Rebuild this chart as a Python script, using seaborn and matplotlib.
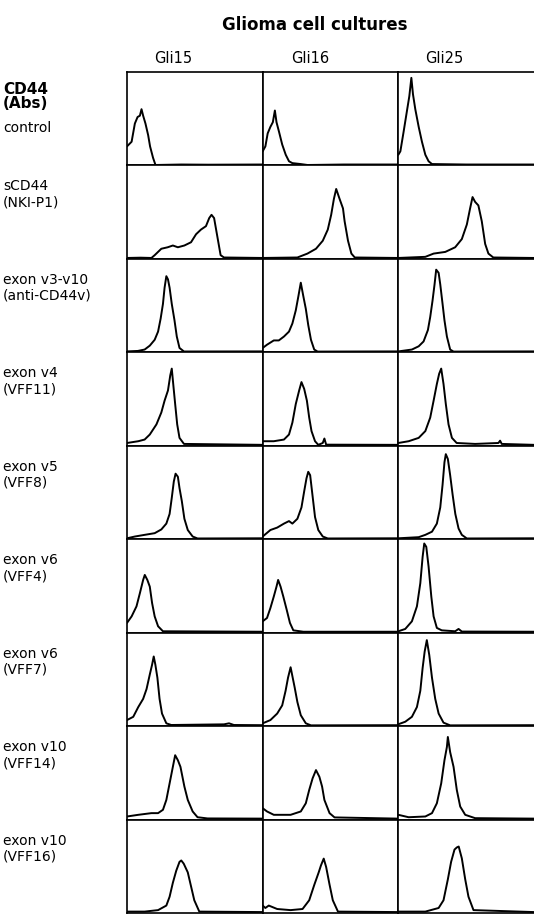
import matplotlib
matplotlib.use("Agg")
import matplotlib.pyplot as plt
import seaborn as sns
import pandas as pd

# ---------------- data (panel-relative: x = fluorescence channel %, y = cell count %) ----------------
cell_lines = ["Gli15", "Gli16", "Gli25"]
row_labels = [
    ["CD44", "(Abs)", "control"],
    ["sCD44", "(NKI-P1)"],
    ["exon v3-v10", "(anti-CD44v)"],
    ["exon v4", "(VFF11)"],
    ["exon v5", "(VFF8)"],
    ["exon v6", "(VFF4)"],
    ["exon v6", "(VFF7)"],
    ["exon v10", "(VFF14)"],
    ["exon v10", "(VFF16)"],
]
title = "Glioma cell cultures"

ctrl_gli15 = [(0,20),(3.4,25),(5.8,44.6),(7.8,51.6),(9.5,53),(10.7,60),(11.9,53),(13.6,44.6),(15.6,32),(17,20),(19.2,7.7),(21,0),(40,0.5),(60,0.3),(100,0.5)]
ctrl_gli16 = [(0,14.7),(2,20),(3.7,34),(5.7,41),(7.5,46),(9,58.6),(10.2,46),(12,36),(14.4,22),(17,11),(19.4,4),(21.9,2),(28,1),(33,0),(60,0.5),(100,0.5)]
ctrl_gli25 = [(0,11),(1.5,14.7),(3.9,35.8),(6.4,58.6),(8.1,74),(9.6,93.7),(10.8,76),(12.5,60),(15,41),(17.4,25),(19.9,11),(22.3,4),(24.8,1),(50,0.5),(100,0.5)]

nki_gli15 = [(0,0.5),(10,0.8),(18,0.5),(20.4,3.5),(25.3,10.4),(30,12),(33.8,13.9),(37.5,12),(42.3,13.9),(47.2,17.4),(50.9,26),(54.5,31),(58.2,34.7),(60.6,43.4),(62.3,46.9),(64.2,43.4),(66.7,22.6),(69,3.5),(71.5,1),(100,0.5)]
nki_gli16 = [(0,0.5),(25.6,1),(33,5.2),(39.3,10.4),(44.3,19),(48,31),(50.5,46.9),(52.5,64),(54.2,74.7),(56.7,64),(59.2,53.8),(60.4,40),(62.9,19),(65.4,5.2),(67.9,1),(100,0.5)]
nki_gli25 = [(0,0.5),(19.9,1.7),(26,5.2),(34.6,7),(41.9,12),(46.8,20.8),(50.5,36.5),(52.9,53.8),(54.7,66),(56.6,60.8),(59,57),(61.5,40),(64,15.6),(66.4,5.2),(70,1),(100,0.5)]

v3_gli15 = [(0,0.5),(8,1),(13,2.5),(16.8,6.7),(20.4,13),(22.9,21.8),(24.8,35.8),(26.5,51.6),(27.7,69),(29,81.4),(30.2,78),(31.4,69),(33,51.6),(35,34),(36.7,16.5),(38.7,4.2),(42,0.4),(100,0.5)]
v3_gli16 = [(0,4.2),(3.2,7.7),(8.2,12.3),(11.9,12.3),(15.7,16.5),(19.4,21.8),(21.9,30.5),(24.4,44.6),(26.4,60.4),(28.1,74.4),(29.9,60.4),(31.8,46.3),(33.6,28.8),(35.6,13),(38,2.5),(40.5,0.3),(100,0.5)]
v3_gli25 = [(0,0.5),(10,2.5),(15,6),(18.6,11.2),(21.8,23.5),(23.5,37.5),(25.2,55),(26.7,72.6),(27.9,88.4),(29.7,85),(30.9,72.6),(32.6,51.6),(34,34),(35.8,16.5),(38.2,2.5),(40.7,0.3),(100,0.5)]

v4_gli15 = [(0,2.5),(8.3,4.4),(13,6.2),(16.8,11.6),(21.7,22.5),(25.3,35.3),(27.7,48),(30.2,59),(31.9,75.3),(33,82.5),(34.3,62.5),(35.5,44.4),(37,22.5),(38.7,8),(42,1.5),(100,0.5)]
v4_gli16 = [(0,4.4),(8.2,4.4),(15.7,6.2),(19.4,11.6),(21.9,24.4),(24.4,44.4),(26.9,59),(28.6,68),(30.6,60.7),(32.6,48),(34.3,29.8),(36,15.3),(38.6,4.4),(41,0.5),(44.3,2.5),(45.5,7.3),(46.8,0.7),(100,0.5)]
v4_gli25 = [(0,2.5),(7.6,4.4),(15,8),(19.9,15.3),(23.5,29.8),(26,48),(28.4,66),(30.1,77),(31.6,82.5),(33.3,66),(35,44.4),(37,22.5),(39.5,8),(43,2.5),(56.6,1.5),(73.8,2.5),(75,5),(76.2,1.5),(100,0.5)]

v5_gli15 = [(0,0.5),(5.8,2.4),(13,4.2),(20.4,6),(25.3,10),(29,16.3),(31.4,26.7),(33,44),(34.5,61.5),(35.8,70),(37.5,66.7),(38.7,54.5),(40.4,40.6),(42.3,21.5),(44.8,9.4),(48.4,2.4),(52,0.3),(100,0.5)]
v5_gli16 = [(0,2.4),(5.7,9.4),(10.7,12),(15.7,16.3),(19.4,19),(21.9,16.3),(25.6,21.5),(28.6,33.7),(30.6,51),(32.3,65),(33.6,72),(35,68.4),(36.8,45.8),(38.6,23.3),(41,9.4),(44.3,2.4),(48,0.3),(100,0.5)]
v5_gli25 = [(0,0.5),(15,1.7),(19.9,4.2),(24.8,7.6),(28.4,16.3),(30.9,33.7),(32.6,58),(34,82.3),(35,91),(36.5,85.8),(38.2,68.4),(40,47.6),(42,26.7),(44.4,11),(46.8,4.2),(50.5,0.3),(100,0.5)]

vff4_gli15 = [(0,10),(3.4,17),(7,27.8),(9.5,42),(11.9,56.2),(13.1,61.6),(15,56.2),(16.8,49),(18.5,31.3),(20.4,17),(22.9,6.4),(26.5,1),(100,0.5)]
vff4_gli16 = [(0,11.7),(3.2,15.3),(5.7,26),(8.2,38.4),(10.2,49),(11.4,56.2),(13.2,49),(15.2,38.4),(17.7,24.2),(20.1,10),(22.6,2),(30,0.5),(100,0.5)]
vff4_gli25 = [(0,1),(5.1,3.5),(10,11.7),(13.7,27.8),(16.2,52.7),(17.9,81),(19.1,95.4),(20.6,91.8),(22.3,70.5),(24.3,38.4),(26,17),(28.4,4.6),(32,2),(41.9,1),(44.4,3.5),(46.8,0.7),(100,0.5)]

vff7_gli15 = [(0,6),(4.6,9.5),(8.3,20),(11.9,28.8),(14.4,39.3),(16.8,55),(18.5,65.6),(19.7,74.4),(20.9,65.6),(22.4,51.6),(24,28.8),(25.8,13),(29,2.5),(32.6,0.7),(71.5,1.4),(75.2,2.5),(78.8,0.7),(100,0.5)]
vff7_gli16 = [(0,2.5),(5.7,6),(10.7,13),(14.4,21.8),(16.9,37.5),(18.7,51.6),(20.6,62.8),(21.9,53.3),(23.6,41),(25.6,25.3),(28.1,11.2),(31.8,2.5),(35.6,0.3),(100,0.5)]
vff7_gli25 = [(0,1.5),(5.1,4.2),(10,9.5),(13.7,20),(16.2,37.5),(17.9,62),(19.4,79.6),(21,92),(22.8,76),(24.8,51.6),(27.2,28.8),(29.7,13),(33.3,3.2),(38.2,0.3),(100,0.5)]

vff14_gli15 = [(0,2.8),(8.3,4.6),(18,6.4),(22.9,6.4),(26.5,10),(29,20.6),(31.4,38.4),(33.8,56.2),(35.5,68.7),(37.5,63.3),(39.4,56.2),(42.3,35),(44.8,20.6),(48.4,8.2),(52,2),(59.4,0.7),(100,0.5)]
vff14_gli16 = [(0,11.7),(3.2,8.2),(8.2,4.6),(20.6,4.6),(28.1,8.2),(31.8,17),(34.3,31.3),(36.8,43.8),(39.3,52.7),(41.8,45.5),(43.8,35),(45.5,20.6),(49.3,6.4),(53,1.8),(100,0.5)]
vff14_gli25 = [(0,4.6),(7.6,2),(19.9,2.8),(24.8,6.4),(28.4,17),(31.6,38.4),(34,63.3),(35.8,77.6),(36.5,88.3),(38.2,72),(40.7,56.2),(43.1,31.3),(45.6,13.5),(49.3,4.6),(56.6,1),(100,0.5)]

vff16_gli15 = [(0,1),(13,1),(22.9,2.6),(29,7.5),(31.4,17),(33.8,32),(36.3,45),(38.7,54.5),(40,56),(41.8,52.6),(44.8,43.2),(47.2,28.2),(49.6,13.2),(53.3,1),(100,0.5)]
vff16_gli16 = [(0,7.5),(2,4.9),(4.5,7.5),(10.7,3.8),(20.6,2.6),(29.4,3.8),(34.3,13.2),(38.1,30),(41.3,43.2),(43,50.8),(45,58),(46.8,48.9),(49.3,30),(51.7,13.2),(55.5,1),(100,0.5)]
vff16_gli25 = [(0,1),(19.9,1),(29.7,4.9),(33.3,13.2),(36.5,35.7),(38.9,54.5),(41.4,67.7),(43.1,70),(44.5,71),(46.8,58.3),(49.3,35.7),(51.7,17),(55.4,2.6),(100,0.5)]

grid = [
    [ctrl_gli15, ctrl_gli16, ctrl_gli25],
    [nki_gli15, nki_gli16, nki_gli25],
    [v3_gli15, v3_gli16, v3_gli25],
    [v4_gli15, v4_gli16, v4_gli25],
    [v5_gli15, v5_gli16, v5_gli25],
    [vff4_gli15, vff4_gli16, vff4_gli25],
    [vff7_gli15, vff7_gli16, vff7_gli25],
    [vff14_gli15, vff14_gli16, vff14_gli25],
    [vff16_gli15, vff16_gli16, vff16_gli25],
]

# ---------------- figure ----------------
sns.set_style("white")
plt.rcParams["font.family"] = ["DejaVu Sans"]
plt.rcParams["text.color"] = "black"

W, H = 534, 915
fig = plt.figure(figsize=(W / 100, H / 100), dpi=100)
fig.patch.set_facecolor("white")

left_px, right_px, top_px, bottom_px = 127, 534, 72, 913
gs = fig.add_gridspec(9, 3, left=left_px / W, right=right_px / W,
                      top=1 - top_px / H, bottom=1 - bottom_px / H,
                      wspace=0, hspace=0)

for r in range(9):
    for c in range(3):
        ax = fig.add_subplot(gs[r, c])
        df = pd.DataFrame(grid[r][c], columns=["channel", "count"])
        sns.lineplot(data=df, x="channel", y="count", ax=ax, color="black",
                     linewidth=1.4, estimator=None, sort=False)
        ax.set_xlim(0, 100)
        ax.set_ylim(-0.5, 100)
        ax.set_xticks([])
        ax.set_yticks([])
        ax.set_xlabel("")
        ax.set_ylabel("")
        for s in ax.spines.values():
            s.set_color("black")
            s.set_linewidth(1.2)
            s.set_visible(True)
        if c == 2:
            ax.spines["right"].set_visible(False)

# title and column labels
fig.text(315 / W, 1 - 30.5 / H, title, ha="center", va="baseline",
         fontsize=12, fontweight="bold", color="black")
col_x = [173, 310, 444]
for name, x in zip(cell_lines, col_x):
    fig.text(x / W, 1 - 63 / H, name, ha="center", va="baseline",
             fontsize=10.5, color="black")

# row labels
row_h = (bottom_px - top_px) / 9
for r, lines in enumerate(row_labels):
    top = top_px + r * row_h
    if r == 0:
        ys = [89, 103.5, 127.5]
        weights = ["bold", "bold", "normal"]
        sizes = [11, 11, 10]
    else:
        ys = [top + 21, top + 37]
        weights = ["normal", "normal"]
        sizes = [10, 10]
    for txt, y, w, s in zip(lines, ys, weights, sizes):
        fig.text(3 / W, 1 - y / H, txt, ha="left", va="center",
                 fontsize=s, fontweight=w, color="black")

fig.savefig("out.png", dpi=100, facecolor="white")
